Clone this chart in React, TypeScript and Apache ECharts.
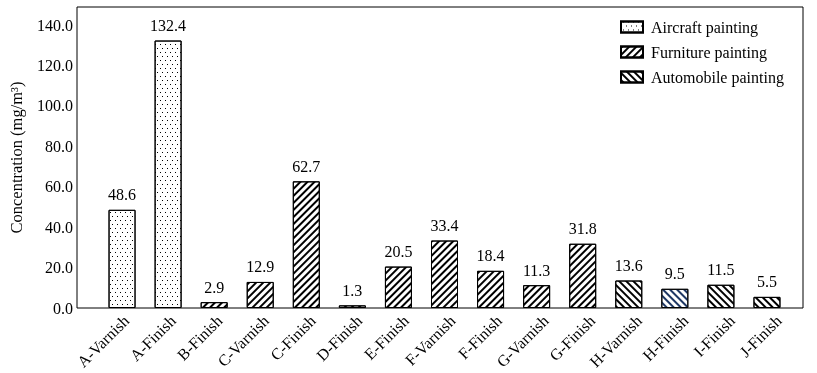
import React, { useEffect, useRef } from "react";
import * as echarts from "echarts";

const categories = [
  "A-Varnish", "A-Finish", "B-Finish", "C-Varnish", "C-Finish", "D-Finish", "E-Finish",
  "F-Varnish", "F-Finish", "G-Varnish", "G-Finish", "H-Varnish", "H-Finish", "I-Finish", "J-Finish",
];
const aircraft = [48.6, 132.4, null, null, null, null, null, null, null, null, null, null, null, null, null];
const furniture = [null, null, 2.9, 12.9, 62.7, 1.3, 20.5, 33.4, 18.4, 11.3, 31.8, null, null, null, null];
const automobile = [null, null, null, null, null, null, null, null, null, null, null, 13.6, 9.5, 11.5, 5.5];
const navyCategories = ["H-Finish"];
const yTicks = { min: 0, max: 149, interval: 20 };

const FONT = '"Liberation Serif", "Times New Roman", serif';

const dotDecal = {
  symbol: "rect",
  symbolSize: 1,
  color: "#000",
  backgroundColor: "#fff",
  dashArrayX: [[1, 4], [0, 2, 1, 2]],
  dashArrayY: [1, 3],
};
const hatch = (rot: number, color = "#000") => ({
  symbol: "rect",
  symbolSize: 1,
  color,
  backgroundColor: "#fff",
  dashArrayX: [1, 0],
  dashArrayY: [2, 3],
  rotation: rot,
});

export default function App() {
  const ref = useRef<HTMLDivElement>(null);
  useEffect(() => {
    if (!ref.current) return;
    const chart = echarts.init(ref.current, undefined, { renderer: "svg" });
    const baseItem = (decal: any) => ({ color: "#fff", borderColor: "#000", borderWidth: 1, decal });
    const label = {
      show: true,
      position: "top",
      distance: 7,
      fontSize: 16,
      fontFamily: FONT,
      color: "#000",
      formatter: (p: any) => (typeof p.value === "number" ? p.value.toFixed(1) : ""),
    };
    const furnDecal = hatch(-Math.PI / 4);
    const autoDecal = hatch(Math.PI / 4);
    const autoNavyDecal = hatch(Math.PI / 4, "#1f3864");
    const autoData = automobile.map((v, i) =>
      v != null && navyCategories.includes(categories[i])
        ? { value: v, itemStyle: { decal: autoNavyDecal } }
        : v
    );
    const common = { type: "bar", xAxisIndex: 1, yAxisIndex: 1, stack: "all", barWidth: 27, label };
    chart.setOption({
      animation: false,
      textStyle: { fontFamily: FONT },
      grid: [
        { left: 77, right: 14, top: 7, bottom: 65, show: true, borderColor: "#000", borderWidth: 1 },
        { left: 91, right: 27, top: 7, bottom: 65 },
        { left: 103, right: 15, top: 7, bottom: 65 },
      ],
      xAxis: [
        { type: "value", gridIndex: 0, show: false, min: 0, max: 1 },
        {
          type: "category", gridIndex: 1, data: categories,
          axisLine: { show: false }, axisTick: { show: false }, axisLabel: { show: false },
        },
        {
          type: "category", gridIndex: 2, data: categories,
          axisLine: { show: false }, axisTick: { show: false },
          axisLabel: { rotate: 45, margin: 10, interval: 0, fontSize: 16, color: "#000", fontFamily: FONT },
        },
      ],
      yAxis: [
        { type: "value", gridIndex: 0, show: false, min: 0, max: 1 },
        {
          type: "value", gridIndex: 1, min: yTicks.min, max: yTicks.max, interval: yTicks.interval,
          axisLine: { show: false }, axisTick: { show: false }, splitLine: { show: false },
          axisLabel: {
            margin: 26, fontSize: 16, color: "#000", fontFamily: FONT, showMaxLabel: false,
            formatter: (v: number) => (v > 140 ? "" : v.toFixed(1)),
          },
          name: "Concentration (mg/m³)", nameLocation: "middle", nameGap: 74,
          nameTextStyle: { fontSize: 16.5, color: "#000", fontFamily: FONT },
        },
        { type: "value", gridIndex: 2, show: false },
      ],
      legend: {
        orient: "vertical", left: 615, top: 14, itemWidth: 22, itemHeight: 11, itemGap: 9,
        icon: "rect",
        textStyle: { fontSize: 16, color: "#000", fontFamily: FONT, padding: [0, 0, 0, 3] },
        data: ["Aircraft painting", "Furniture painting", "Automobile painting"],
      },
      series: [
        { ...common, name: "Aircraft painting", data: aircraft, itemStyle: baseItem(dotDecal) },
        { ...common, name: "Furniture painting", data: furniture, itemStyle: baseItem(furnDecal) },
        { ...common, name: "Automobile painting", data: autoData, itemStyle: baseItem(autoDecal) },
      ],
    });
    return () => chart.dispose();
  }, []);
  return <div ref={ref} style={{ position: "fixed", left: 0, top: 0, width: 817, height: 373 }} />;
}
